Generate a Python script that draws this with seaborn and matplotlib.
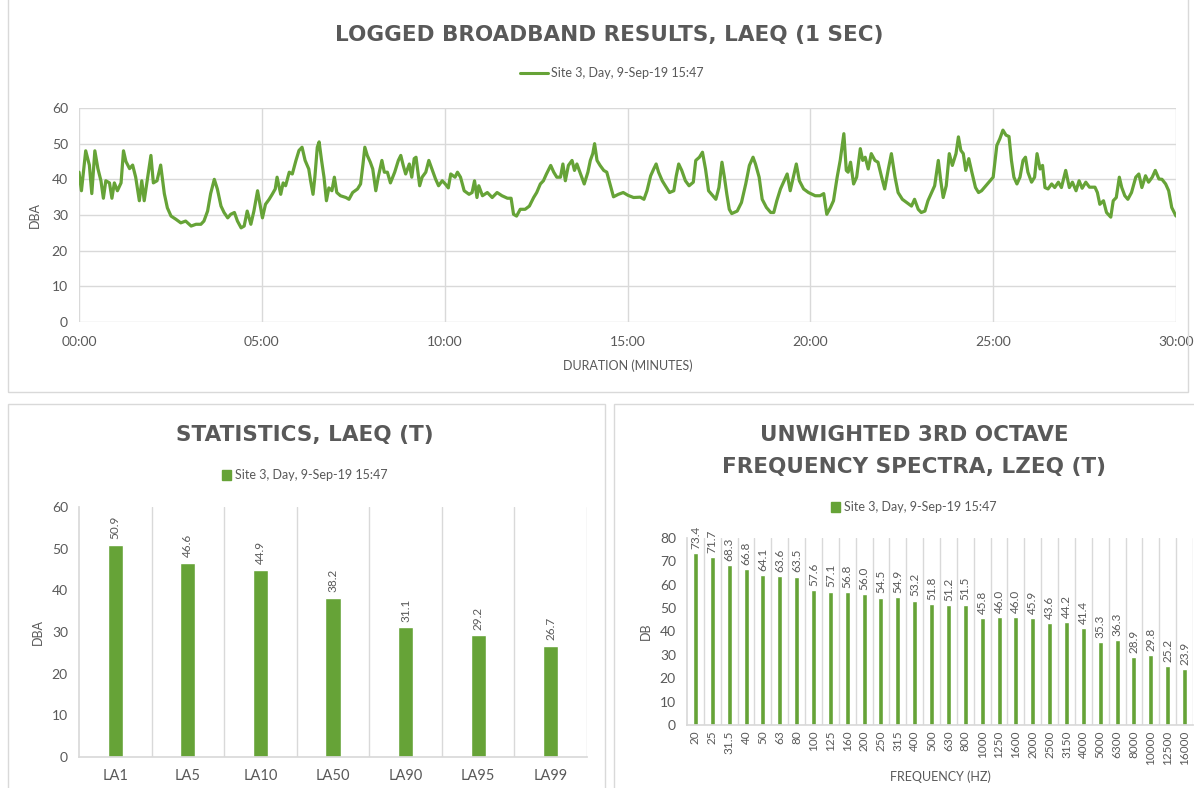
import matplotlib
matplotlib.use("Agg")
import matplotlib.pyplot as plt
import seaborn as sns
import numpy as np
import pandas as pd
from matplotlib.lines import Line2D
from matplotlib.patches import Patch, Rectangle

#### data ####
# logged LAeq (1 sec), sampled by eye every few seconds
t_sec = [0, 4, 11, 17, 21, 26, 31, 36, 40, 44, 50, 54, 58, 63, 69, 73, 77, 83, 88, 93,
         99, 103, 107, 114, 118, 122, 128, 134, 140, 145, 151, 159, 167, 175, 184, 192, 200, 205, 211, 216,
         222, 227, 233, 238, 244, 249, 255, 260, 266, 271, 276, 282, 287, 293, 301, 306, 312, 317, 322, 325,
         331, 335, 339, 345, 350, 356, 361, 366, 371, 377, 380, 384, 387, 391, 394, 398, 402, 406, 410, 415,
         419, 423, 429, 438, 443, 449, 457, 462, 466, 469, 473, 478, 482, 487, 491, 497, 501, 506, 511, 518,
         524, 528, 532, 536, 542, 546, 550, 553, 559, 563, 569, 574, 580, 585, 590, 596, 601, 606, 610, 617,
         621, 626, 632, 640, 645, 649, 653, 656, 662, 670, 678, 686, 694, 703, 709, 713, 718, 724, 732, 739,
         746, 751, 757, 762, 767, 774, 779, 784, 790, 794, 798, 803, 809, 813, 817, 823, 829, 835, 839, 843,
         846, 850, 855, 861, 866, 872, 877, 885, 893, 901, 910, 921, 927, 932, 938, 943, 947, 951, 957, 962,
         969, 976, 980, 984, 989, 995, 1001, 1008, 1012, 1018, 1023, 1028, 1033, 1040, 1045, 1050, 1055, 1059, 1063, 1067,
         1071, 1080, 1087, 1094, 1100, 1106, 1110, 1116, 1121, 1128, 1135, 1140, 1145, 1151, 1156, 1162, 1167, 1172, 1177, 1182,
         1189, 1197, 1208, 1216, 1222, 1227, 1233, 1238, 1244, 1249, 1255, 1259, 1262, 1266, 1271, 1276, 1282, 1286, 1290, 1295,
         1300, 1306, 1311, 1317, 1322, 1328, 1333, 1339, 1344, 1351, 1358, 1366, 1371, 1377, 1382, 1388, 1393, 1399, 1404, 1410,
         1414, 1418, 1423, 1428, 1433, 1439, 1443, 1447, 1451, 1455, 1460, 1465, 1471, 1476, 1481, 1488, 1495, 1500, 1506, 1511,
         1516, 1521, 1526, 1530, 1534, 1539, 1544, 1549, 1553, 1557, 1563, 1568, 1572, 1577, 1581, 1585, 1590, 1596, 1601, 1607,
         1612, 1619, 1625, 1630, 1636, 1641, 1646, 1652, 1658, 1667, 1671, 1675, 1681, 1686, 1693, 1697, 1702, 1707, 1711, 1716,
         1721, 1727, 1734, 1739, 1744, 1750, 1755, 1761, 1766, 1772, 1777, 1783, 1788, 1793, 1800]
laeq = [42, 36.8, 48, 44, 36, 48, 43, 39.6, 34.7, 39.6, 39, 34.7, 39, 36.8, 39, 48, 45, 43, 44, 40.6,
        34, 39.6, 34, 42, 46.7, 39, 39.6, 44, 36, 32, 29.7, 28.8, 27.8, 28.3, 26.9, 27.4, 27.4, 28.3, 31.1, 36,
        40, 37.3, 32.5, 30.7, 29.2, 30.2, 30.7, 28.3, 26.4, 26.9, 31.1, 27.4, 31.1, 36.8, 29.2, 33, 34.4, 35.8, 37.3, 40.6,
        35.8, 39, 38.2, 42, 41.5, 45.3, 48.1, 49, 45.3, 42.9, 39.6, 35.8, 40.6, 49, 50.5, 45.3, 40.6, 34, 37.6, 36.8,
        40.6, 36.3, 35.4, 34.9, 34.4, 36.3, 37.3, 38.7, 44.3, 49, 46.7, 44.8, 42.9, 36.8, 40.6, 45.3, 42, 42, 39, 42,
        45.3, 46.7, 43.9, 41.5, 44.3, 40.6, 45.8, 46.2, 38.2, 40.6, 42, 45.3, 42.5, 40.1, 38.2, 39.6, 38.7, 37.6, 41.5, 40.6,
        42, 40.6, 36.8, 35.8, 36.3, 39.6, 34.9, 38.2, 35.4, 36.3, 34.9, 36.3, 35.4, 34.7, 34.7, 30.2, 29.7, 31.6, 31.6, 32.5,
        34.9, 36.3, 38.7, 39.6, 41.5, 43.9, 42, 40.6, 40.6, 44.3, 39.6, 43.9, 45.3, 42.5, 44.3, 41.5, 38.7, 42, 45.3, 47.2,
        50, 45.3, 43.9, 42.5, 42, 38.2, 35.1, 35.8, 36.3, 35.5, 34.9, 35, 34.4, 36.8, 41, 42.9, 44.3, 42, 39.6, 38.2,
        36.3, 36.8, 41, 44.3, 42.5, 39.6, 38.2, 39.2, 45.3, 46.2, 47.6, 42.9, 36.8, 35.4, 34.4, 37.7, 44.8, 40.6, 35.8, 31.6,
        30.4, 31.1, 33.5, 38.7, 43.9, 46.2, 44.3, 40.6, 34.4, 32.1, 30.7, 30.7, 34, 37.3, 39.2, 41.5, 36.8, 40.6, 44.3, 39.6,
        37.3, 36.3, 35.4, 35.4, 36, 30.2, 32.1, 34, 40.6, 45.3, 52.8, 42.5, 42, 44.8, 38.7, 40.6, 48.6, 45.3, 46.2, 42.9,
        47.2, 45.3, 44.8, 40.6, 37.3, 42.9, 47.2, 40.6, 36.3, 34.4, 33.5, 32.5, 34.4, 31.6, 30.7, 31.1, 34, 36.3, 38.2, 45.3,
        39.6, 34.9, 38.2, 47.2, 43.9, 47.2, 51.9, 48.1, 47.2, 42.5, 45.8, 42, 37.7, 36.3, 36.8, 38.2, 39.6, 40.6, 49.5, 51.4,
        53.8, 52.4, 52, 45.3, 40.6, 38.7, 40.6, 45.3, 46.2, 42, 39.2, 40.6, 47.2, 42.9, 43.9, 37.7, 37.3, 38.7, 37.7, 39.2,
        37.7, 42.5, 37.7, 39.2, 36.8, 39.6, 37.5, 39.2, 37.8, 37.8, 36.3, 33, 34, 30.7, 29.4, 34, 34.9, 40.6, 37.7, 35.4,
        34.4, 36.3, 40.6, 41.5, 37.7, 41, 39.2, 40.6, 42.5, 40.1, 40, 38.7, 36.8, 32.1, 29.7]
time_ticks = [0, 300, 600, 900, 1200, 1500, 1800]
time_labels = ["00:00", "05:00", "10:00", "15:00", "20:00", "25:00", "30:00"]

stat_names = ["LA1", "LA5", "LA10", "LA50", "LA90", "LA95", "LA99"]
stat_vals = [50.9, 46.6, 44.9, 38.2, 31.1, 29.2, 26.7]

freq_bands = ["20", "25", "31.5", "40", "50", "63", "80", "100", "125", "160", "200", "250", "315",
              "400", "500", "630", "800", "1000", "1250", "1600", "2000", "2500", "3150", "4000",
              "5000", "6300", "8000", "10000", "12500", "16000"]
lzeq = [73.4, 71.7, 68.3, 66.8, 64.1, 63.6, 63.5, 57.6, 57.1, 56.8, 56.0, 54.5, 54.9, 53.2, 51.8,
        51.2, 51.5, 45.8, 46.0, 46.0, 45.9, 43.6, 44.2, 41.4, 35.3, 36.3, 28.9, 29.8, 25.2, 23.9]

series_name = "Site 3, Day, 9-Sep-19 15:47"

#### styling ####
sns.set_theme(style="white")
plt.rcParams["font.family"] = ["Lato", "DejaVu Sans"]
green = "#66A337"
grey_txt = "#595959"
grid_c = "#D9D9D9"

W, H = 1194, 788
fig = plt.figure(figsize=(W / 100, H / 100), dpi=100)
fig.patch.set_facecolor("white")

def ax_px(left, top, right, bottom):
    return fig.add_axes([left / W, 1 - bottom / H, (right - left) / W, (bottom - top) / H])

def fx(x):
    return x / W

def fy(y):
    return 1 - y / H

# chart borders
for (l, t, r, b) in [(8, -2, 1188, 392), (8, 404, 605, 790), (614, 404, 1196, 790)]:
    fig.patches.append(Rectangle((fx(l), fy(b)), fx(r - l), (b - t) / H, transform=fig.transFigure,
                                 fill=False, edgecolor=grid_c, linewidth=1))

title_kw = dict(fontsize=15.5, fontweight="bold", color=grey_txt, ha="center", va="center",
                family=["DejaVu Sans"])

def clean(ax):
    for s in ax.spines.values():
        s.set_visible(False)
    ax.tick_params(colors=grey_txt, labelsize=10, length=0)

#### top: logged broadband ####
df_t = pd.DataFrame({"t": t_sec, "laeq": laeq})
ax1 = ax_px(79, 108, 1176, 322)
sns.lineplot(data=df_t, x="t", y="laeq", ax=ax1, color=green, linewidth=2.3)
clean(ax1)
ax1.set_xlim(0, 1800)
ax1.set_ylim(0, 60)
ax1.set_xticks(time_ticks)
ax1.set_xticklabels(time_labels)
ax1.set_yticks(range(0, 61, 10))
ax1.grid(True, color=grid_c, linewidth=1)
ax1.tick_params(axis="x", pad=10)
ax1.tick_params(axis="y", pad=8)
ax1.set_xlabel("DURATION (MINUTES)", fontsize=9, color=grey_txt, labelpad=8)
ax1.set_ylabel("DBA", fontsize=9, color=grey_txt, labelpad=8)
fig.text(fx(609), fy(35), "LOGGED BROADBAND RESULTS, LAEQ (1 SEC)", **title_kw)
fig.legend(handles=[Line2D([0], [0], color=green, lw=2.2)], labels=[series_name],
           loc="center", bbox_to_anchor=(fx(612), fy(73)), frameon=False, fontsize=9,
           labelcolor=grey_txt, handlelength=2.2, handletextpad=0.3)

#### bottom left: statistics ####
df_s = pd.DataFrame({"stat": stat_names, "val": stat_vals})
ax2 = ax_px(79, 507, 587, 757)
sns.barplot(data=df_s, x="stat", y="val", ax=ax2, color=green, width=0.21, saturation=1)
clean(ax2)
ax2.spines["bottom"].set_visible(True)
ax2.spines["left"].set_visible(True)
ax2.spines["bottom"].set_color(grid_c)
ax2.spines["left"].set_color(grid_c)
ax2.set_xlim(-0.5, len(stat_names) - 0.5)
ax2.set_ylim(0, 60)
ax2.set_yticks(range(0, 61, 10))
ax2.set_xticks(np.arange(len(stat_names)) + 0.5, minor=True)
ax2.grid(True, which="minor", axis="x", color=grid_c, linewidth=1)
ax2.tick_params(axis="y", length=4, color=grid_c, pad=4)
ax2.tick_params(axis="x", pad=9, labelsize=10.5)
ax2.set_xlabel("")
ax2.set_ylabel("DBA", fontsize=9, color=grey_txt, labelpad=6)
ax2.bar_label(ax2.containers[0], fmt="%.1f", rotation=90, padding=4, fontsize=8.5, color=grey_txt)
fig.text(fx(305), fy(435), "STATISTICS, LAEQ (T)", **title_kw)
fig.legend(handles=[Patch(color=green)], labels=[series_name], loc="center",
           bbox_to_anchor=(fx(305), fy(475)), frameon=False, fontsize=9, labelcolor=grey_txt,
           handlelength=0.7, handleheight=0.9, handletextpad=0.3)

#### bottom right: 3rd octave spectrum ####
df_f = pd.DataFrame({"band": freq_bands, "lzeq": lzeq})
ax3 = ax_px(687, 538, 1193, 725)
sns.barplot(data=df_f, x="band", y="lzeq", ax=ax3, color=green, width=0.3, saturation=1)
clean(ax3)
ax3.spines["bottom"].set_visible(True)
ax3.spines["left"].set_visible(True)
ax3.spines["bottom"].set_color(grid_c)
ax3.spines["left"].set_color(grid_c)
ax3.set_xlim(-0.5, len(freq_bands) - 0.5)
ax3.set_ylim(0, 80)
ax3.set_yticks(range(0, 81, 10))
ax3.set_xticks(np.arange(len(freq_bands)) + 0.5, minor=True)
ax3.grid(True, which="minor", axis="x", color=grid_c, linewidth=1)
ax3.tick_params(axis="y", length=4, color=grid_c, pad=4)
ax3.tick_params(axis="x", rotation=90, pad=4, labelsize=8.5)
ax3.set_xlabel("FREQUENCY (HZ)", fontsize=9, color=grey_txt, labelpad=4)
ax3.set_ylabel("DB", fontsize=9, color=grey_txt, labelpad=6)
ax3.bar_label(ax3.containers[0], fmt="%.1f", rotation=90, padding=3, fontsize=8.5, color=grey_txt)
fig.text(fx(914), fy(435), "UNWIGHTED 3RD OCTAVE", **title_kw)
fig.text(fx(914), fy(467), "FREQUENCY SPECTRA, LZEQ (T)", **title_kw)
fig.legend(handles=[Patch(color=green)], labels=[series_name], loc="center",
           bbox_to_anchor=(fx(914), fy(507)), frameon=False, fontsize=9, labelcolor=grey_txt,
           handlelength=0.7, handleheight=0.9, handletextpad=0.3)

fig.savefig("out.png", dpi=100, facecolor="white")
